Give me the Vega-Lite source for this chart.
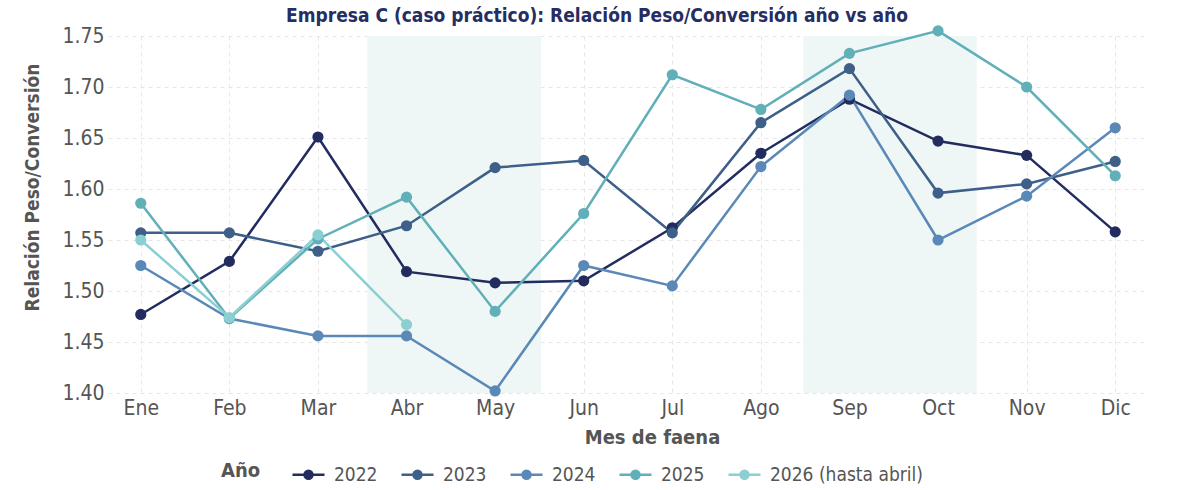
{
  "$schema": "https://vega.github.io/schema/vega-lite/v6.json",
  "width": 1040,
  "height": 357,
  "autosize": {"type": "none"},
  "padding": {"left": 108, "top": 36, "right": 52, "bottom": 97},
  "background": "white",
  "config": {
    "font": "DejaVu Sans Condensed",
    "view": {"stroke": null},
    "axis": {
      "domain": false,
      "ticks": false,
      "grid": true,
      "gridColor": "#e6e6e6",
      "gridDash": [4, 4],
      "gridWidth": 1,
      "labelFont": "DejaVu Sans Condensed",
      "titleFont": "DejaVu Sans Condensed",
      "labelFontSize": 21,
      "labelColor": "#555555",
      "titleFontSize": 20,
      "titleFontWeight": "bold",
      "titleColor": "#555555"
    },
    "legend": {
      "labelFont": "DejaVu Sans Condensed",
      "titleFont": "DejaVu Sans Condensed"
    },
    "title": {"font": "DejaVu Sans Condensed"}
  },
  "title": {
    "text": "Empresa C (caso práctico): Relación Peso/Conversión año vs año",
    "anchor": "middle",
    "dx": -31,
    "fontSize": 19,
    "fontWeight": "bold",
    "color": "#252d62",
    "baseline": "alphabetic",
    "offset": -16
  },
  "datasets": {
    "franjas": [
      {"desde": 3.557, "hasta": 5.518},
      {"desde": 8.478, "hasta": 10.436}
    ],
    "relacion": [
      {"serie": "2022", "mes": 1, "valor": 1.477},
      {"serie": "2022", "mes": 2, "valor": 1.529},
      {"serie": "2022", "mes": 3, "valor": 1.651},
      {"serie": "2022", "mes": 4, "valor": 1.519},
      {"serie": "2022", "mes": 5, "valor": 1.508},
      {"serie": "2022", "mes": 6, "valor": 1.510},
      {"serie": "2022", "mes": 7, "valor": 1.562},
      {"serie": "2022", "mes": 8, "valor": 1.635},
      {"serie": "2022", "mes": 9, "valor": 1.688},
      {"serie": "2022", "mes": 10, "valor": 1.647},
      {"serie": "2022", "mes": 11, "valor": 1.633},
      {"serie": "2022", "mes": 12, "valor": 1.558},
      {"serie": "2023", "mes": 1, "valor": 1.557},
      {"serie": "2023", "mes": 2, "valor": 1.557},
      {"serie": "2023", "mes": 3, "valor": 1.539},
      {"serie": "2023", "mes": 4, "valor": 1.564},
      {"serie": "2023", "mes": 5, "valor": 1.621},
      {"serie": "2023", "mes": 6, "valor": 1.628},
      {"serie": "2023", "mes": 7, "valor": 1.557},
      {"serie": "2023", "mes": 8, "valor": 1.665},
      {"serie": "2023", "mes": 9, "valor": 1.718},
      {"serie": "2023", "mes": 10, "valor": 1.596},
      {"serie": "2023", "mes": 11, "valor": 1.605},
      {"serie": "2023", "mes": 12, "valor": 1.627},
      {"serie": "2024", "mes": 1, "valor": 1.525},
      {"serie": "2024", "mes": 2, "valor": 1.473},
      {"serie": "2024", "mes": 3, "valor": 1.456},
      {"serie": "2024", "mes": 4, "valor": 1.456},
      {"serie": "2024", "mes": 5, "valor": 1.402},
      {"serie": "2024", "mes": 6, "valor": 1.525},
      {"serie": "2024", "mes": 7, "valor": 1.505},
      {"serie": "2024", "mes": 8, "valor": 1.622},
      {"serie": "2024", "mes": 9, "valor": 1.692},
      {"serie": "2024", "mes": 10, "valor": 1.550},
      {"serie": "2024", "mes": 11, "valor": 1.593},
      {"serie": "2024", "mes": 12, "valor": 1.660},
      {"serie": "2025", "mes": 1, "valor": 1.586},
      {"serie": "2025", "mes": 2, "valor": 1.473},
      {"serie": "2025", "mes": 3, "valor": 1.551},
      {"serie": "2025", "mes": 4, "valor": 1.592},
      {"serie": "2025", "mes": 5, "valor": 1.480},
      {"serie": "2025", "mes": 6, "valor": 1.576},
      {"serie": "2025", "mes": 7, "valor": 1.712},
      {"serie": "2025", "mes": 8, "valor": 1.678},
      {"serie": "2025", "mes": 9, "valor": 1.733},
      {"serie": "2025", "mes": 10, "valor": 1.755},
      {"serie": "2025", "mes": 11, "valor": 1.700},
      {"serie": "2025", "mes": 12, "valor": 1.613},
      {"serie": "2026 (hasta abril)", "mes": 1, "valor": 1.550},
      {"serie": "2026 (hasta abril)", "mes": 2, "valor": 1.474},
      {"serie": "2026 (hasta abril)", "mes": 3, "valor": 1.555},
      {"serie": "2026 (hasta abril)", "mes": 4, "valor": 1.467}
    ]
  },
  "layer": [
    {
      "data": {"name": "franjas"},
      "mark": {"type": "rect", "color": "#eef7f6"},
      "encoding": {
        "x": {
          "field": "desde",
          "type": "quantitative",
          "title": "Mes de faena",
          "scale": {"domain": [0.63, 12.37], "nice": false, "zero": false},
          "axis": {
            "title": "Mes de faena",
            "values": [1, 2, 3, 4, 5, 6, 7, 8, 9, 10, 11, 12],
            "labelExpr": "['Ene','Feb','Mar','Abr','May','Jun','Jul','Ago','Sep','Oct','Nov','Dic'][datum.value - 1]",
            "labelFlush": false,
            "labelOverlap": false,
            "labelBaseline": "top",
            "labelPadding": 4,
            "labelDx": 6,
            "titleAnchor": null,
            "titleX": 544,
            "titleY": 44,
            "titleBaseline": "middle"
          }
        },
        "x2": {"field": "hasta"},
        "y": {
          "datum": 1.40,
          "type": "quantitative",
          "title": "Relación Peso/Conversión",
          "scale": {"domain": [1.40, 1.75], "nice": false, "zero": false},
          "axis": {
            "title": "Relación Peso/Conversión",
            "values": [1.40, 1.45, 1.50, 1.55, 1.60, 1.65, 1.70, 1.75],
            "format": ".2f",
            "labelPadding": 4,
            "labelDy": -6,
            "labelFlush": false,
            "labelOverlap": false,
            "titleAnchor": null,
            "titleX": -76,
            "titleY": 151,
            "titleBaseline": "middle",
            "titleFontSize": 19
          }
        },
        "y2": {"datum": 1.75}
      }
    },
    {
      "data": {"name": "relacion"},
      "mark": {"type": "line", "strokeWidth": 2.5},
      "encoding": {
        "x": {"field": "mes", "type": "quantitative", "title": "Mes de faena"},
        "y": {"field": "valor", "type": "quantitative", "title": "Relación Peso/Conversión"},
        "color": {
          "field": "serie",
          "type": "nominal",
          "scale": {
            "domain": ["2022", "2023", "2024", "2025", "2026 (hasta abril)"],
            "range": ["#232c5f", "#3d5f88", "#5a89b8", "#61afb8", "#8ccfd3"]
          },
          "legend": {
            "orient": "none",
            "legendX": 113,
            "legendY": 421,
            "direction": "horizontal",
            "columns": 5,
            "title": "Año",
            "titleOrient": "left",
            "titleFontSize": 20,
            "titleFontWeight": "bold",
            "titleColor": "#555555",
            "titlePadding": 30,
            "labelFontSize": 19,
            "labelColor": "#555555",
            "labelLimit": 0,
            "labelOffset": 8,
            "columnPadding": 18,
            "symbolType": "M-1,0H1M0.25,0A0.25,0.25,0,1,1,-0.25,0A0.25,0.25,0,1,1,0.25,0Z",
            "symbolSize": 1024,
            "symbolStrokeWidth": 2.5,
            "encode": {
              "symbols": {
                "update": {
                  "fill": {"scale": "color", "field": "value"},
                  "stroke": {"scale": "color", "field": "value"},
                  "opacity": {"value": 1}
                }
              }
            }
          }
        }
      }
    },
    {
      "data": {"name": "relacion"},
      "mark": {"type": "point", "filled": true, "size": 125, "opacity": 1},
      "encoding": {
        "x": {"field": "mes", "type": "quantitative", "title": "Mes de faena"},
        "y": {"field": "valor", "type": "quantitative", "title": "Relación Peso/Conversión"},
        "color": {"field": "serie", "type": "nominal"}
      }
    }
  ]
}
